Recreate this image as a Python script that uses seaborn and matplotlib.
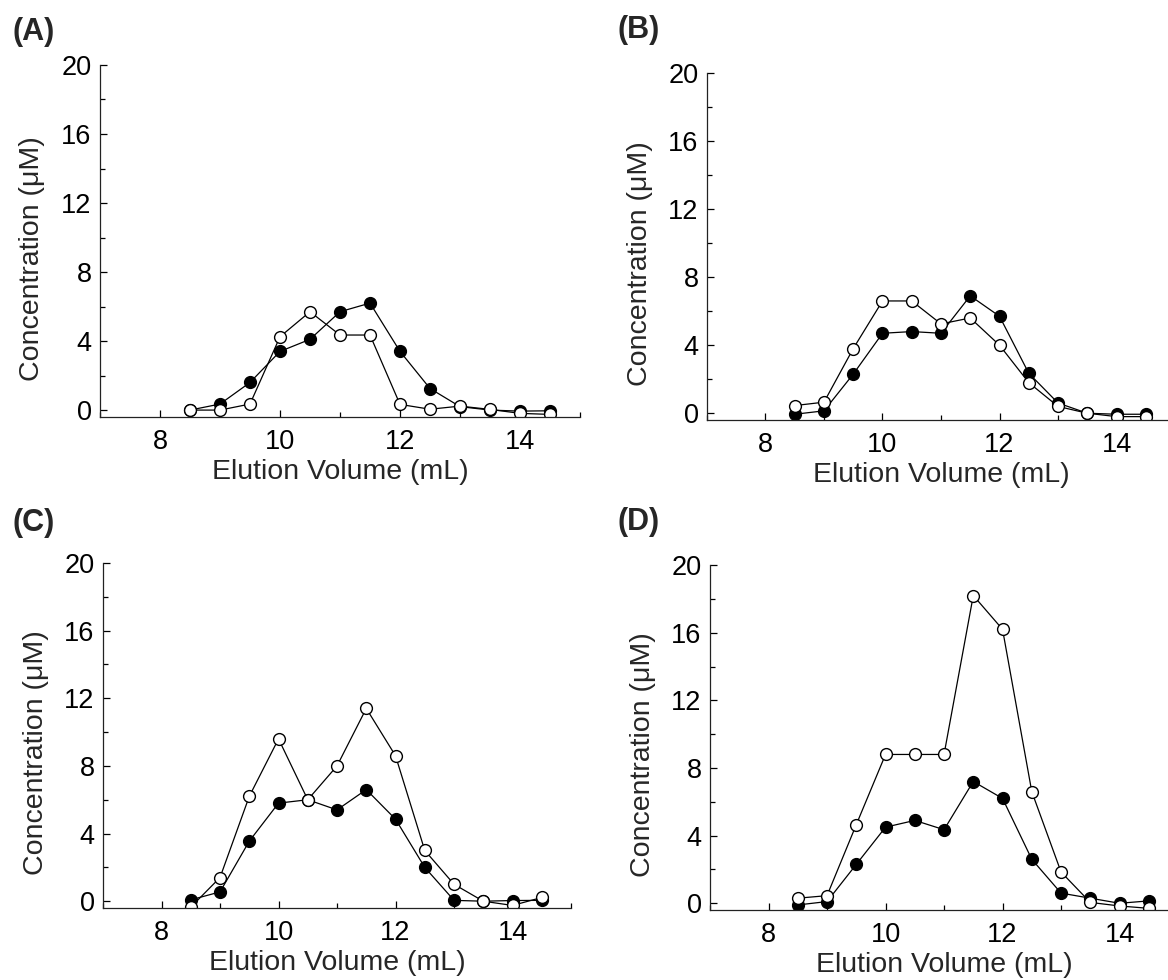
import numpy as np
import pandas as pd
import matplotlib
matplotlib.use("Agg")
import matplotlib.pyplot as plt
import seaborn as sns
from matplotlib.ticker import MultipleLocator

# elution volumes (mL), same for every panel
volume = [8.5, 9.0, 9.5, 10.0, 10.5, 11.0, 11.5, 12.0, 12.5, 13.0, 13.5, 14.0, 14.5]

# filled circles
a_filled = [0.0, 0.35, 1.6, 3.4, 4.1, 5.7, 6.2, 3.4, 1.25, 0.2, 0.0, -0.06, -0.04]
b_filled = [-0.06, 0.14, 2.3, 4.7, 4.8, 4.7, 6.9, 5.7, 2.35, 0.6, 0.0, -0.06, -0.06]
c_filled = [0.08, 0.55, 3.55, 5.8, 6.0, 5.4, 6.6, 4.85, 2.0, 0.05, 0.0, 0.04, 0.05]
d_filled = [-0.1, 0.1, 2.3, 4.5, 4.9, 4.35, 7.2, 6.2, 2.6, 0.6, 0.3, 0.0, 0.14]

# open circles
a_open = [0.0, 0.0, 0.35, 4.25, 5.7, 4.35, 4.35, 0.33, 0.05, 0.23, 0.04, -0.19, -0.25]
b_open = [0.45, 0.65, 3.8, 6.6, 6.6, 5.25, 5.6, 4.0, 1.8, 0.4, 0.0, -0.2, -0.2]
c_open = [-0.35, 1.4, 6.2, 9.6, 6.0, 8.0, 11.4, 8.6, 3.0, 1.0, 0.0, -0.25, 0.22]
d_open = [0.3, 0.45, 4.65, 8.8, 8.8, 8.8, 18.2, 16.2, 6.6, 1.85, 0.05, -0.16, -0.3]

panel_labels = ["(A)", "(B)", "(C)", "(D)"]

sns.set_style("white")
plt.rcParams["font.family"] = ["Liberation Sans", "DejaVu Sans"]

fig = plt.figure(figsize=(11.68, 9.8), dpi=100)

rects = [
    [0.0856, 0.5745, 0.411, 0.3592],
    [0.6053, 0.5714, 0.4007, 0.3541],
    [0.0882, 0.0735, 0.4007, 0.352],
    [0.6079, 0.0714, 0.4007, 0.352],
]
label_pos = [(12, 32), (618, 30), (12, 523), (618, 522)]
filled_sets = [a_filled, b_filled, c_filled, d_filled]
open_sets = [a_open, b_open, c_open, d_open]

for i in range(4):
    ax = fig.add_axes(rects[i])
    df = pd.DataFrame({"vol": volume, "filled": filled_sets[i], "open": open_sets[i]})

    # filled first, open circles on top
    sns.lineplot(data=df, x="vol", y="filled", ax=ax, estimator=None, sort=False,
                 color="black", linewidth=0.9, marker="o", markersize=8.5,
                 markerfacecolor="black", markeredgecolor="black", markeredgewidth=1)
    sns.lineplot(data=df, x="vol", y="open", ax=ax, estimator=None, sort=False,
                 color="black", linewidth=0.9, marker="o", markersize=8.5,
                 markerfacecolor="white", markeredgecolor="black", markeredgewidth=1)

    ax.set_xlim(7, 15)
    ax.set_ylim(-0.4, 20)
    ax.xaxis.set_major_locator(MultipleLocator(2))
    ax.xaxis.set_minor_locator(MultipleLocator(1))
    ax.yaxis.set_major_locator(MultipleLocator(4))
    ax.yaxis.set_minor_locator(MultipleLocator(2))
    ax.set_xticks([8, 10, 12, 14])

    ax.tick_params(which="major", direction="in", length=5, width=0.9,
                   labelsize=19.5, colors="black")
    ax.tick_params(axis="y", which="major", pad=6)
    ax.tick_params(axis="x", which="major", pad=8.5)
    ax.tick_params(which="minor", direction="in", length=3.5, width=0.9, colors="black")
    ax.tick_params(left=True, bottom=True, which="both")

    sns.despine(ax=ax)
    for s in ["left", "bottom"]:
        ax.spines[s].set_color("#222222")
        ax.spines[s].set_linewidth(0.9)

    ax.set_xlabel("Elution Volume (mL)", fontsize=20.5, labelpad=3)
    ax.set_ylabel("Concentration (μM)", fontsize=20.5)
    ax.yaxis.set_label_coords(-0.115, 0.45)

    lx, ly = label_pos[i]
    fig.text(lx / 1168, 1 - ly / 980, panel_labels[i], fontsize=22,
             fontweight="bold", ha="left", va="center")

fig.savefig("out.png", dpi=100)
